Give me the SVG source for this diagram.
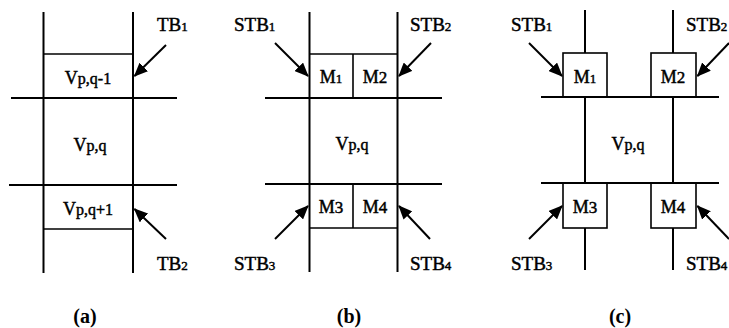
<svg xmlns="http://www.w3.org/2000/svg" width="729" height="328" viewBox="0 0 729 328">
<defs>
<marker id="ah" markerWidth="14" markerHeight="12" refX="13" refY="6" orient="auto" markerUnits="userSpaceOnUse">
<path d="M0,0 L14,6 L0,12 Z" fill="#000"/>
</marker>
<style>
.ln{stroke:#000;stroke-width:2;fill:none}
.bx{stroke:#000;stroke-width:1.6;fill:none}
.ar{stroke:#000;stroke-width:2;fill:none;marker-end:url(#ah)}
text{font-family:"Liberation Serif","Times New Roman",serif;fill:#000;stroke:#000;stroke-width:0.45}
.t{font-size:19px}
.c{font-size:18px;text-anchor:middle}
.s{font-size:13px}
.v{font-size:16px}
.cap{font-size:20px;font-weight:bold;text-anchor:middle;stroke-width:0}
</style>
</defs>
<rect width="729" height="328" fill="#fff"/>

<g id="panel-a">
<g id="a-grid">
<line class="ln" x1="43.5" y1="12" x2="43.5" y2="273"/>
<line class="ln" x1="133" y1="12" x2="133" y2="273"/>
<line class="ln" x1="11" y1="98" x2="177" y2="98"/>
<line class="ln" x1="9" y1="185" x2="177" y2="185"/>
</g>
<g id="a-vq-1"><line class="bx" x1="43.5" y1="54" x2="133" y2="54"/><text class="c" x="88" y="84">V<tspan class="v">p,q-1</tspan></text></g>
<g id="a-vq"><text class="c" x="90" y="151">V<tspan class="v">p,q</tspan></text></g>
<g id="a-vq+1"><line class="bx" x1="43.5" y1="229" x2="133" y2="229"/><text class="c" x="88" y="215">V<tspan class="v">p,q+1</tspan></text></g>
<g id="a-tb1"><text class="t" x="157" y="31">TB<tspan class="s">1</tspan></text></g>
<g id="a-tb2"><text class="t" x="157" y="270">TB<tspan class="s">2</tspan></text></g>
<text class="cap" x="85" y="323">(a)</text>
</g>

<g id="panel-b">
<g id="b-grid">
<line class="ln" x1="309.5" y1="12" x2="309.5" y2="272"/>
<line class="ln" x1="397.5" y1="12" x2="397.5" y2="272"/>
<line class="ln" x1="265" y1="98" x2="442" y2="98"/>
<line class="ln" x1="265" y1="184" x2="442" y2="184"/>
</g>
<g id="b-m1"><line class="bx" x1="309.5" y1="54" x2="397.5" y2="54"/><line class="bx" x1="353" y1="54" x2="353" y2="98"/><text class="c" x="331" y="83">M<tspan class="s">1</tspan></text></g>
<g id="b-m2"><text class="c" x="375" y="83">M<tspan font-size="17px">2</tspan></text></g>
<g id="b-vq"><text class="c" x="352" y="150">V<tspan class="v">p,q</tspan></text></g>
<g id="b-m3"><line class="bx" x1="309.5" y1="228" x2="397.5" y2="228"/><line class="bx" x1="353" y1="184" x2="353" y2="228"/><text class="c" x="331" y="213">M<tspan font-size="17px">3</tspan></text></g>
<g id="b-m4"><text class="c" x="375" y="213">M<tspan font-size="17px">4</tspan></text></g>
<g id="b-stb1"><text class="t" x="234" y="31">STB<tspan class="s">1</tspan></text></g>
<g id="b-stb2"><text class="t" x="410" y="31">STB<tspan class="s">2</tspan></text></g>
<g id="b-stb3"><text class="t" x="234" y="270">STB<tspan class="s">3</tspan></text></g>
<g id="b-stb4"><text class="t" x="410" y="270">STB<tspan class="s">4</tspan></text></g>
<text class="cap" x="349" y="323">(b)</text>
</g>

<g id="panel-c">
<g id="c-grid">
<line class="ln" x1="585" y1="10" x2="585" y2="53"/>
<line class="ln" x1="673" y1="10" x2="673" y2="53"/>
<line class="ln" x1="585" y1="97" x2="585" y2="183"/>
<line class="ln" x1="673" y1="97" x2="673" y2="183"/>
<line class="ln" x1="585" y1="228" x2="585" y2="270"/>
<line class="ln" x1="673" y1="228" x2="673" y2="270"/>
<line class="ln" x1="541" y1="97" x2="719" y2="97"/>
<line class="ln" x1="541" y1="183" x2="719" y2="183"/>
</g>
<g id="c-m1"><rect class="bx" x="563" y="53" width="44" height="44"/><text class="c" x="585" y="83">M<tspan class="s">1</tspan></text></g>
<g id="c-m2"><rect class="bx" x="651" y="53" width="45" height="44"/><text class="c" x="673" y="83">M<tspan font-size="17px">2</tspan></text></g>
<g id="c-vq"><text class="c" x="628" y="150">V<tspan class="v">p,q</tspan></text></g>
<g id="c-m3"><rect class="bx" x="563" y="183" width="44" height="45"/><text class="c" x="585" y="213">M<tspan font-size="17px">3</tspan></text></g>
<g id="c-m4"><rect class="bx" x="651" y="183" width="45" height="45"/><text class="c" x="673" y="213">M<tspan font-size="17px">4</tspan></text></g>
<g id="c-stb1"><text class="t" x="511" y="31">STB<tspan class="s">1</tspan></text></g>
<g id="c-stb2"><text class="t" x="686" y="31">STB<tspan class="s">2</tspan></text></g>
<g id="c-stb3"><text class="t" x="511" y="270">STB<tspan class="s">3</tspan></text></g>
<g id="c-stb4"><text class="t" x="686" y="270">STB<tspan class="s">4</tspan></text></g>
<text class="cap" x="620" y="323">(c)</text>
</g>

<g id="connectors">
<line class="ar" x1="166" y1="45" x2="134.5" y2="76"/>
<line class="ar" x1="166" y1="239" x2="134.5" y2="209"/>
<line class="ar" x1="275" y1="43" x2="308" y2="76"/>
<line class="ar" x1="431" y1="43" x2="399" y2="76"/>
<line class="ar" x1="275" y1="239" x2="308" y2="206"/>
<line class="ar" x1="430" y1="239" x2="399" y2="206"/>
<line class="ar" x1="529" y1="43" x2="562" y2="76"/>
<line class="ar" x1="729" y1="43" x2="697.5" y2="76"/>
<line class="ar" x1="529" y1="239" x2="562" y2="206"/>
<line class="ar" x1="729" y1="239" x2="697.5" y2="206"/>
</g>
</svg>
